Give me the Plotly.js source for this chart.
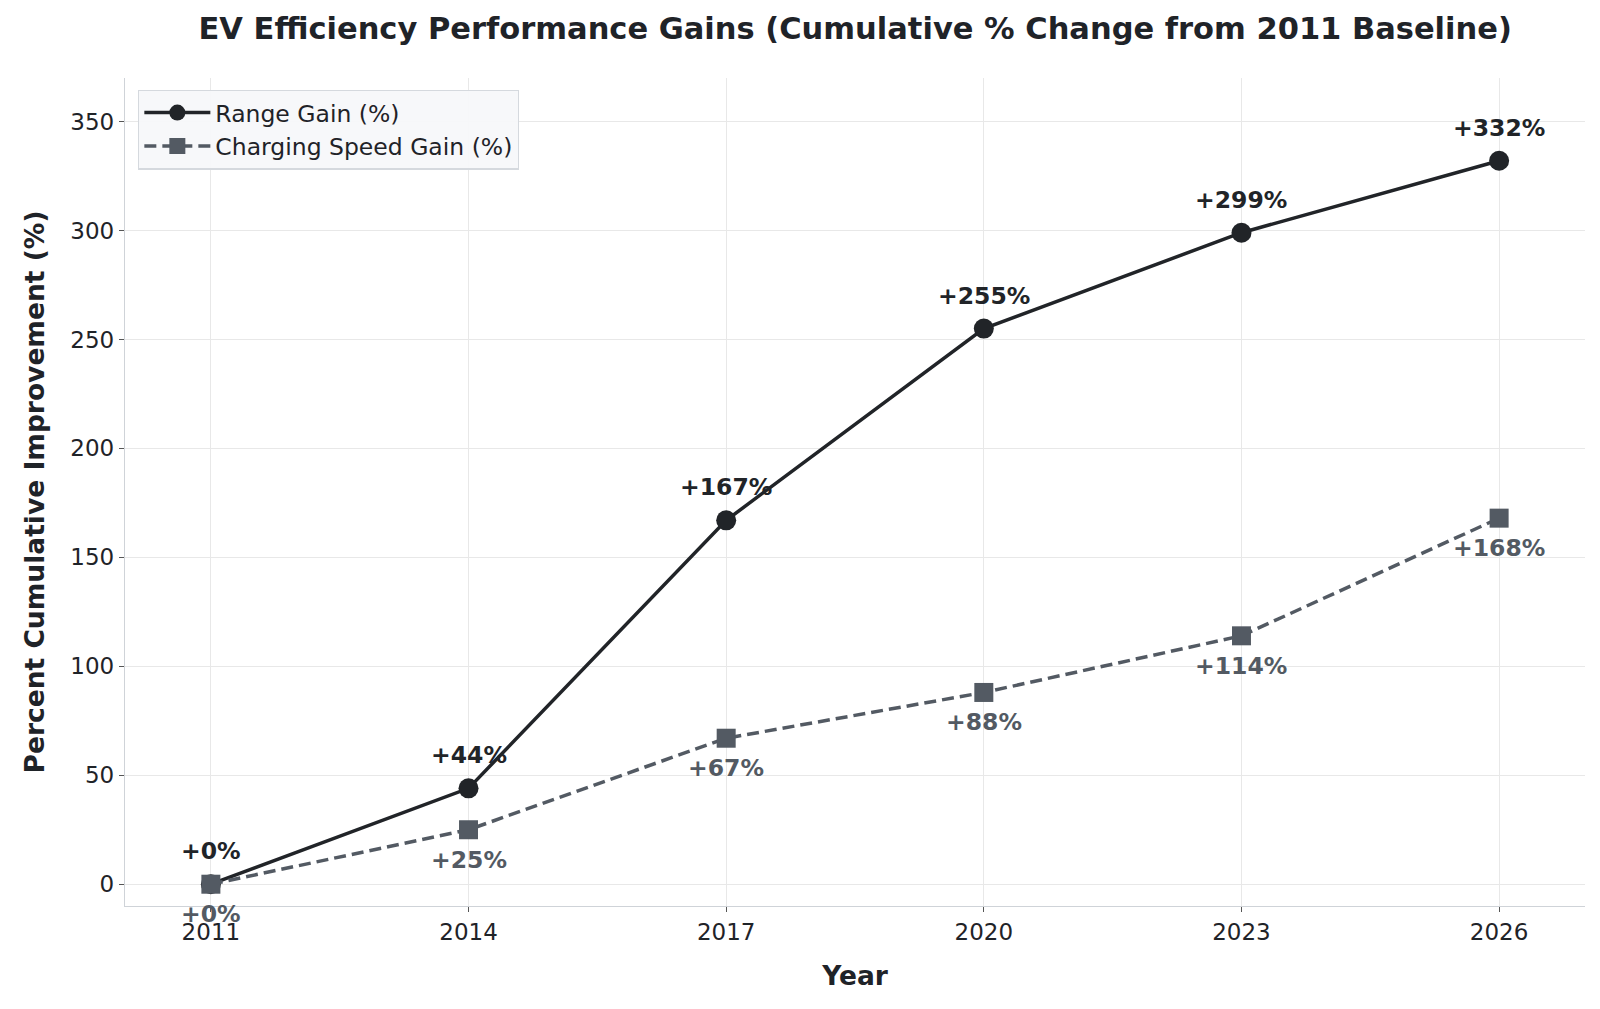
<!DOCTYPE html>
<html>
<head>
<meta charset="utf-8">
<script src="https://cdn.plot.ly/plotly-3.0.1.min.js"></script>
<style>html,body{margin:0;padding:0;background:#fff;}#chart{width:1600px;height:1009px;}</style>
</head>
<body>
<div id="chart"></div>
<script>
const years = [2011, 2014, 2017, 2020, 2023, 2026];
const rangeGain = [0, 44, 167, 255, 299, 332];
const chargingGain = [0, 25, 67, 88, 114, 168];
const yTicks = [0, 50, 100, 150, 200, 250, 300, 350];

const rangeColor = '#212428';
const chargeColor = '#535a63';
const FONT = 'DejaVu Sans, sans-serif';

const traces = [
  {
    x: years, y: rangeGain, name: 'Range Gain (%)', type: 'scatter', mode: 'lines+markers',
    line: {color: rangeColor, width: 3.5},
    marker: {symbol: 'circle', size: 20, color: rangeColor}
  },
  {
    x: years, y: chargingGain, name: 'Charging Speed Gain (%)', type: 'scatter', mode: 'lines+markers',
    line: {color: chargeColor, width: 3.5, dash: '12px,6px'},
    marker: {symbol: 'square', size: 19, color: chargeColor}
  }
];

const annotations = [];
years.forEach((yr, i) => {
  annotations.push({x: yr, y: rangeGain[i], text: '<b>+' + rangeGain[i] + '%</b>', showarrow: false,
    yshift: 33, font: {family: FONT, size: 23.5, color: rangeColor}});
  annotations.push({x: yr, y: chargingGain[i], text: '<b>+' + chargingGain[i] + '%</b>', showarrow: false,
    yshift: -30, font: {family: FONT, size: 23.5, color: chargeColor}});
});

const layout = {
  width: 1600, height: 1009,
  paper_bgcolor: '#ffffff', plot_bgcolor: '#ffffff',
  margin: {l: 125, r: 15, t: 78, b: 103},
  font: {family: FONT, size: 23, color: '#1f2328'},
  title: {text: '<b>EV Efficiency Performance Gains (Cumulative % Change from 2011 Baseline)</b>',
    x: 0.5345, xanchor: 'center', y: 0.972, yanchor: 'middle', xref: 'container',
    font: {family: FONT, size: 30.5, color: '#1f2328'}},
  xaxis: {
    range: [2010, 2027], tickvals: years, ticktext: years.map(String),
    showgrid: true, gridcolor: '#e8e8e8', gridwidth: 1.2, zeroline: false,
    showline: true, linecolor: '#cfd3d8', linewidth: 1.2,
    ticks: 'outside', ticklen: 5, tickcolor: '#555', tickfont: {family: FONT, size: 23, color: '#1f2328'},
    title: {text: '<b>Year</b>', font: {family: FONT, size: 26.5, color: '#1f2328'}, standoff: 22}
  },
  yaxis: {
    range: [-10, 370], tickvals: yTicks,
    showgrid: true, gridcolor: '#e8e8e8', gridwidth: 1.2, zeroline: false,
    showline: true, linecolor: '#cfd3d8', linewidth: 1.2,
    ticks: 'outside', ticklen: 5, tickcolor: '#555', tickfont: {family: FONT, size: 23, color: '#1f2328'},
    title: {text: '<b>Percent Cumulative Improvement (%)</b>', font: {family: FONT, size: 26.5, color: '#1f2328'}, standoff: 18}
  },
  legend: {
    x: 0.009, y: 0.986, xanchor: 'left', yanchor: 'top',
    bgcolor: 'rgba(247,248,250,0.95)', bordercolor: '#d5d9de', borderwidth: 1.2,
    font: {family: FONT, size: 23.5, color: '#1f2328'}, itemwidth: 66
  },
  showlegend: true,
  annotations: annotations
};

Plotly.newPlot('chart', traces, layout, {displayModeBar: false, staticPlot: true});
</script>
</body>
</html>
